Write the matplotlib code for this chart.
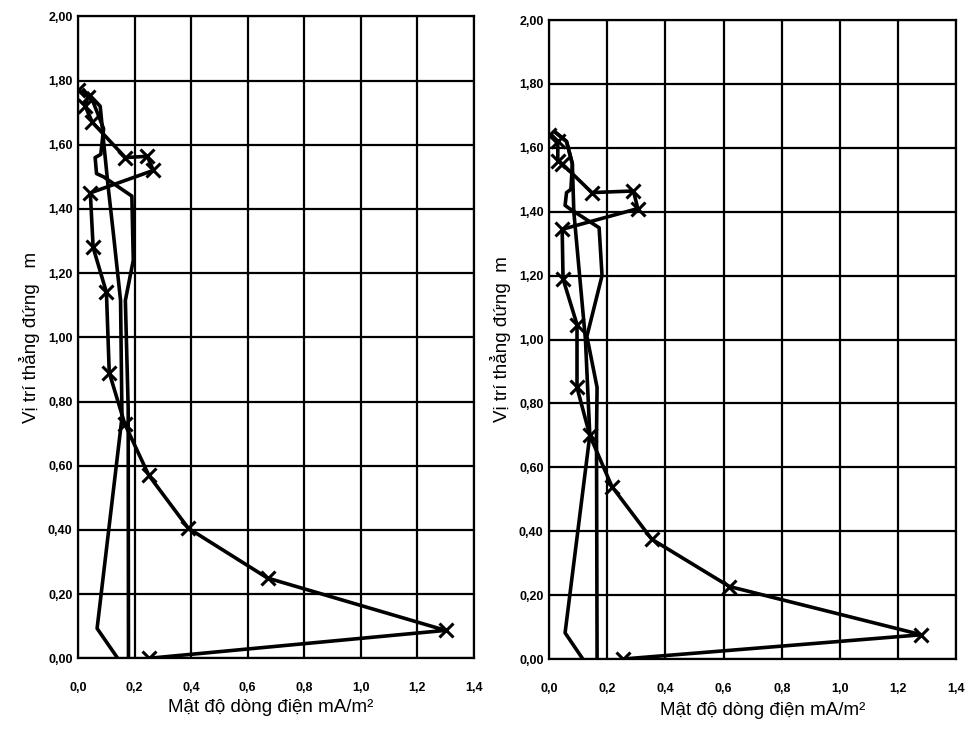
import matplotlib
matplotlib.use("Agg")
import matplotlib.pyplot as plt
import numpy as np
from matplotlib.ticker import FuncFormatter

plt.rcParams['font.family'] = ['Liberation Sans', 'DejaVu Sans']

# left panel
left_main_x = [0.25, 1.30, 0.67, 0.39, 0.25, 0.165, 0.11, 0.10, 0.053, 0.043, 0.266, 0.245, 0.167, 0.05, 0.025, 0.035, 0.0]
left_main_y = [0.0, 0.087, 0.25, 0.405, 0.57, 0.73, 0.89, 1.14, 1.28, 1.45, 1.52, 1.564, 1.56, 1.67, 1.72, 1.75, 1.77]
left_b_x = [0.14, 0.067, 0.155, 0.15, 0.125, 0.106, 0.09, 0.078, 0.035]
left_b_y = [0.0, 0.093, 0.75, 1.115, 1.32, 1.47, 1.61, 1.72, 1.76]
left_c_x = [0.178, 0.177, 0.167, 0.195, 0.19, 0.09, 0.065, 0.06, 0.08, 0.09, 0.05, 0.02]
left_c_y = [0.0, 0.78, 1.115, 1.24, 1.44, 1.50, 1.51, 1.56, 1.57, 1.65, 1.74, 1.77]

# right panel
right_main_x = [0.253, 1.28, 0.62, 0.353, 0.216, 0.14, 0.096, 0.096, 0.048, 0.045, 0.305, 0.29, 0.147, 0.045, 0.03, 0.03, 0.0]
right_main_y = [0.0, 0.076, 0.227, 0.375, 0.54, 0.70, 0.85, 1.047, 1.19, 1.345, 1.41, 1.465, 1.46, 1.55, 1.56, 1.62, 1.64]
right_b_x = [0.116, 0.055, 0.14, 0.125, 0.10, 0.085, 0.08, 0.06, 0.02]
right_b_y = [0.0, 0.082, 0.70, 1.00, 1.25, 1.40, 1.55, 1.62, 1.65]
right_c_x = [0.165, 0.163, 0.165, 0.13, 0.182, 0.172, 0.07, 0.055, 0.06, 0.075, 0.08, 0.06, 0.02]
right_c_y = [0.0, 0.70, 0.85, 1.01, 1.20, 1.35, 1.41, 1.42, 1.46, 1.47, 1.55, 1.62, 1.65]

x_ticks = np.arange(0, 1.41, 0.2)
y_ticks = np.arange(0, 2.01, 0.2)

fig = plt.figure(figsize=(9.65, 7.43), dpi=100)
ax1 = fig.add_axes([0.081, 0.114, 0.410, 0.864])
ax2 = fig.add_axes([0.569, 0.113, 0.422, 0.860])

panels = [
    (ax1, left_main_x, left_main_y, left_b_x, left_b_y, left_c_x, left_c_y, "Vị trí thẳng đứng   m"),
    (ax2, right_main_x, right_main_y, right_b_x, right_b_y, right_c_x, right_c_y, "Vị trí thẳng đứng  m"),
]

for ax, mx, my, bx, by, cx, cy, ylab in panels:
    ax.plot(bx, by, color="black", lw=2.6, solid_joinstyle="round")
    ax.plot(cx, cy, color="black", lw=2.6, solid_joinstyle="round")
    ax.plot(mx, my, color="black", lw=2.6, marker="x", ms=10, mew=2.2, solid_joinstyle="round")
    ax.set_xlim(0, 1.4)
    ax.set_ylim(0, 2.0)
    ax.set_xticks(x_ticks)
    ax.set_yticks(y_ticks)
    ax.xaxis.set_major_formatter(FuncFormatter(lambda v, p: f"{v:.1f}".replace(".", ",")))
    ax.yaxis.set_major_formatter(FuncFormatter(lambda v, p: f"{v:.2f}".replace(".", ",")))
    ax.grid(True, color="black", lw=1.6)
    ax.tick_params(length=0, labelsize=9, pad=4)
    ax.tick_params(axis="x", pad=17)
    for lbl in ax.get_xticklabels() + ax.get_yticklabels():
        lbl.set_fontweight("bold")
    for s in ax.spines.values():
        s.set_linewidth(1.6)
    ax.set_ylabel(ylab, fontsize=13.5, labelpad=6)

fig.text(0.28, 0.048, "Mật độ dòng điện mA/m²", fontsize=13.5, ha="center", va="center")
fig.text(0.79, 0.044, "Mật độ dòng điện mA/m²", fontsize=13.5, ha="center", va="center")

fig.savefig("out.png", dpi=100)
